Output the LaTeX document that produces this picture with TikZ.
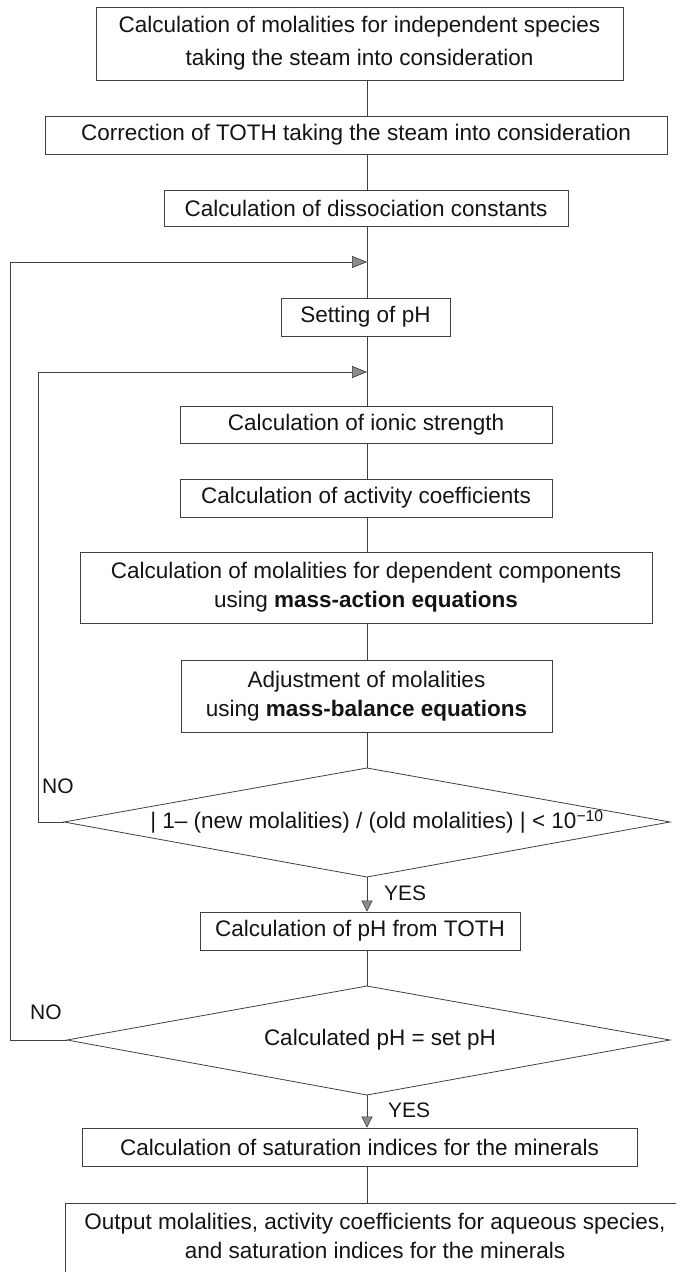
\documentclass[tikz,border=0pt]{standalone}
\usepackage{fontspec}
\setmainfont{Liberation Sans}
\usetikzlibrary{arrows.meta}
\begin{document}
\begin{tikzpicture}[x=1pt,y=-1pt,
  every node/.style={font=\fontsize{22.5}{29}\selectfont, text=black!92},
  box/.style={draw=black!75, line width=0.8pt, inner sep=0pt, align=center},
  conn/.style={draw=black!75, line width=0.8pt},
  tip/.style={-{Triangle[length=15pt,width=12pt,fill=black!45,color=black!80,line width=0.6pt]}},
  vtip/.style={-{Triangle[length=11pt,width=11pt,fill=black!45,color=black!80,line width=0.6pt]}},
  lbl/.style={inner sep=0pt, anchor=west, font=\fontsize{21}{25}\selectfont}
]
\useasboundingbox (0,0) rectangle (680,1272);
\coordinate (ax) at (367,0);

\node[box, minimum width=527pt, minimum height=73pt] (b1) at (359.5,43.5)
  {Calculation of molalities for independent species\\[4pt]taking the steam into consideration};
\node[box, minimum width=622pt, minimum height=38pt] (b2) at (356,135)
  {Correction of TOTH taking the steam into consideration};
\node[box, minimum width=404pt, minimum height=36pt] (b3) at (366,208)
  {Calculation of dissociation constants};
\node[box, minimum width=169pt, minimum height=38pt] (b4) at (365.5,317)
  {Setting of pH};
\node[box, minimum width=372pt, minimum height=37pt] (b5) at (366,425)
  {Calculation of ionic strength};
\node[box, minimum width=372pt, minimum height=38pt] (b6) at (366,498)
  {Calculation of activity coefficients};
\node[box, minimum width=572pt, minimum height=71pt] (b7) at (366,587.5)
  {Calculation of molalities for dependent components\\using \textbf{mass-action equations}};
\node[box, minimum width=371pt, minimum height=72pt] (b8) at (366.5,696)
  {Adjustment of molalities\\using \textbf{mass-balance equations}};
\node[box, minimum width=320pt, minimum height=38pt] (b9) at (360,931)
  {Calculation of pH from TOTH};
\node[box, minimum width=555pt, minimum height=38pt] (b10) at (359.5,1147)
  {Calculation of saturation indices for the minerals};

% diamond 1
\coordinate (d1t) at (367,768);
\coordinate (d1l) at (64,822);
\coordinate (d1r) at (670,822);
\coordinate (d1b) at (367,877);
\draw[conn] (d1t) -- (d1r) -- (d1b) -- (d1l) -- cycle;
\node (d1) at (377,822) {| 1– (new molalities) / (old molalities) | < 10\textsuperscript{−10}};

% diamond 2
\coordinate (d2t) at (367,986);
\coordinate (d2l) at (67,1040);
\coordinate (d2r) at (670,1040);
\coordinate (d2b) at (367,1095);
\draw[conn] (d2t) -- (d2r) -- (d2b) -- (d2l) -- cycle;
\node (d2) at (380,1040) {Calculated pH = set pH};

% output box (open at bottom)
\coordinate (oL) at (65,1272);
\coordinate (oTL) at (65,1203);
\coordinate (oTR) at (676,1203);
\draw[conn] (oL) -- (oTL) -- (oTR);
\node[align=center] (out) at (375,1236)
  {Output molalities, activity coefficients for aqueous species,\\and saturation indices for the minerals};

% main vertical connectors
\coordinate (j1) at (367,262);
\coordinate (j2) at (367,372);
\draw[conn] (b1.south -| ax) -- (b2.north -| ax);
\draw[conn] (b2.south -| ax) -- (b3.north -| ax);
\draw[conn] (b3.south -| ax) -- (b4.north -| ax);
\draw[conn] (b4.south -| ax) -- (b5.north -| ax);
\draw[conn] (b5.south -| ax) -- (b6.north -| ax);
\draw[conn] (b6.south -| ax) -- (b7.north -| ax);
\draw[conn] (b7.south -| ax) -- (b8.north -| ax);
\draw[conn] (b8.south -| ax) -- (d1t);
\draw[conn,vtip] (d1b) -- (b9.north -| ax);
\draw[conn] (b9.south -| ax) -- (d2t);
\draw[conn,vtip] (d2b) -- (b10.north -| ax);
\draw[conn] (b10.south -| ax) -- (oTL -| ax);

% loops
\coordinate (o1) at (10,262);
\coordinate (o2) at (38,372);
\draw[conn,tip] (d2l) -| (o1) -- (j1);
\draw[conn,tip] (d1l) -| (o2) -- (j2);

% labels
\node[lbl] (no1) at (42,786) {NO};
\node[lbl] (no2) at (30,1012) {NO};
\node[lbl] (yes1) at (384,893) {YES};
\node[lbl] (yes2) at (388,1110) {YES};
\end{tikzpicture}
\end{document}
